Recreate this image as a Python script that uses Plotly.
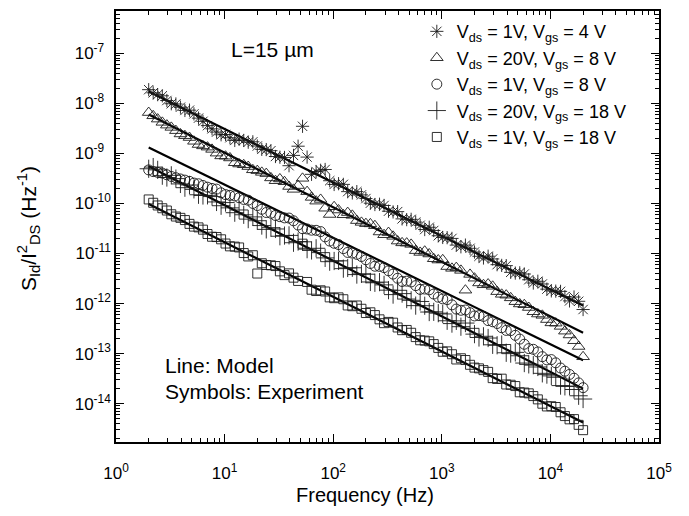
import plotly.graph_objects as go

# Frequencies (Hz) - two interleaved measurement grids
FREQ_A = [2.00, 2.42, 2.94, 3.56, 4.31, 5.22, 6.32, 7.66, 9.28, 11.2, 13.6, 16.5,
          20.0, 24.2, 29.4, 35.6, 43.1, 52.2, 63.2, 76.6, 92.8, 112, 136, 165,
          200, 242, 294, 356, 431, 522, 632, 766, 928, 1120, 1360, 1650,
          2000, 2420, 2940, 3560, 4310, 5220, 6320, 7660, 9280, 11200, 13600, 16500, 20000]
FREQ_B = [2.20, 2.67, 3.23, 3.92, 4.75, 5.75, 6.96, 8.43, 10.2, 12.4, 15.0, 18.2,
          22.0, 26.7, 32.3, 39.2, 47.5, 57.5, 69.6, 84.3, 102, 124, 150, 182,
          220, 267, 323, 392, 475, 575, 696, 843, 1020, 1240, 1500, 1820,
          2200, 2670, 3230, 3920, 4750, 5750, 6960, 8430, 10200, 12400, 15000, 18200]

# Vds = 1V, Vgs = 4 V (asterisk)
STAR_A = [1.87e-8, 1.49e-8, 1.135e-8, 9.68e-9, 7.19e-9, 6.14e-9, 4.36e-9, 3.09e-9,
          2.35e-9, 2.05e-9, 1.92e-9, 1.67e-9, 1.40e-9, 1.19e-9, 8.65e-10, 8.28e-10,
          9.10e-10, 3.47e-9, 3.81e-10, 4.59e-10, 2.84e-10, 2.48e-10, 1.72e-10, 1.72e-10,
          1.25e-10, 9.5e-11, 9.1e-11, 6.76e-11, 4.91e-11, 4.81e-11, 3.66e-11, 3.34e-11,
          2.26e-11, 2.07e-11, 1.47e-11, 1.47e-11, 1.07e-11, 8.13e-12, 7.78e-12, 5.78e-12,
          4.20e-12, 4.11e-12, 2.99e-12, 2.79e-12, 1.94e-12, 1.77e-12, 1.38e-12, 1.35e-12, 7.6e-13]
STAR_B = [1.616e-8, 1.41e-8, 9.78e-9, 8.35e-9, 7.29e-9, 5.05e-9, 3.58e-9, 2.66e-9,
          2.38e-9, 1.81e-9, 1.81e-9, 1.70e-9, 1.20e-9, 1.13e-9, 8.37e-10, 5.67e-10,
          1.39e-9, 8.42e-10, 4.33e-10, 4.76e-10, 2.39e-10, 2.40e-10, 1.62e-10, 1.48e-10,
          1.01e-10, 9.63e-11, 6.99e-11, 6.85e-11, 4.75e-11, 4.24e-11, 3.01e-11, 2.88e-11,
          2.09e-11, 2.00e-11, 1.36e-11, 1.27e-11, 8.80e-12, 8.82e-12, 5.98e-12, 5.72e-12,
          4.06e-12, 3.89e-12, 2.57e-12, 2.46e-12, 1.79e-12, 1.75e-12, 1.13e-12, 1.11e-12]

# Vds = 20V, Vgs = 8 V (triangle)
TRI_A = [6.53e-9, 4.83e-9, 3.66e-9, 2.84e-9, 2.25e-9, 1.74e-9, 1.41e-9, 1.20e-9,
         8.89e-10, 8.09e-10, 6.12e-10, 5.45e-10, 4.52e-10, 3.94e-10, 2.84e-10, 2.71e-10,
         1.91e-10, 3.17e-10, 1.32e-10, 1.20e-10, 6.01e-11, 7.38e-11, 6.56e-11, 4.54e-11,
         3.94e-11, 3.59e-11, 2.37e-11, 2.20e-11, 1.63e-11, 1.52e-11, 1.05e-11, 9.77e-12,
         7.40e-12, 5.48e-12, 5.22e-12, 1.85e-12, 3.21e-12, 2.37e-12, 2.21e-12, 1.53e-12,
         1.30e-12, 9.82e-13, 8.34e-13, 6.18e-13, 4.79e-13, 4.06e-13, 2.81e-13, 1.81e-13, 8.65e-14]
TRI_B = [5.62e-9, 4.16e-9, 3.30e-9, 2.44e-9, 2.07e-9, 1.50e-9, 1.33e-9, 1.01e-9,
         8.77e-10, 6.49e-10, 5.91e-10, 4.69e-10, 4.17e-10, 3.23e-10, 3.08e-10, 2.18e-10,
         2.27e-10, 1.72e-10, 1.11e-10, 8.02e-11, 8.58e-11, 5.93e-11, 5.78e-11, 4.18e-11,
         3.90e-11, 2.69e-11, 2.62e-11, 1.77e-11, 1.61e-11, 1.14e-11, 1.11e-11, 7.85e-12,
         7.48e-12, 5.05e-12, 4.60e-12, 3.82e-12, 2.58e-12, 2.45e-12, 1.73e-12, 1.47e-12,
         1.09e-12, 9.48e-13, 6.85e-13, 5.82e-13, 4.11e-13, 3.50e-13, 2.36e-13, 1.39e-13]

# Vds = 1V, Vgs = 8 V (circle)
CIR_A = [4.67e-10, 4.17e-10, 3.73e-10, 3.26e-10, 2.92e-10, 2.55e-10, 2.28e-10, 1.99e-10,
         1.63e-10, 1.45e-10, 1.30e-10, 1.16e-10, 9.06e-11, 6.58e-11, 5.75e-11, 5.14e-11,
         4.50e-11, 3.12e-11, 2.92e-11, 2.74e-11, 1.77e-11, 1.51e-11, 1.05e-11, 9.62e-12,
         7.50e-12, 5.57e-12, 5.22e-12, 3.88e-12, 2.76e-12, 2.70e-12, 1.92e-12, 1.88e-12,
         1.34e-12, 1.20e-12, 7.76e-13, 7.43e-13, 5.66e-13, 5.55e-13, 4.33e-13, 3.29e-13,
         2.88e-13, 1.95e-13, 1.26e-13, 1.08e-13, 7.50e-14, 6.55e-14, 4.45e-14, 3.23e-14, 2.09e-14]
CIR_B = [4.32e-10, 4.04e-10, 3.45e-10, 3.08e-10, 2.76e-10, 2.47e-10, 2.11e-10, 1.93e-10,
         1.50e-10, 1.41e-10, 1.20e-10, 1.00e-10, 7.63e-11, 6.37e-11, 5.44e-11, 5.10e-11,
         3.70e-11, 3.09e-11, 2.90e-11, 2.15e-11, 1.60e-11, 1.25e-11, 1.02e-11, 8.70e-12,
         6.32e-12, 5.52e-12, 4.51e-12, 3.20e-12, 2.80e-12, 2.28e-12, 1.95e-12, 1.55e-12,
         1.24e-12, 9.42e-13, 7.34e-13, 6.57e-13, 5.74e-13, 4.57e-13, 4.00e-13, 2.91e-13,
         2.32e-13, 1.54e-13, 1.22e-13, 8.69e-14, 7.60e-14, 5.16e-14, 3.84e-14, 2.60e-14]

# Vds = 20V, Vgs = 18 V (plus)
PLUS_A = [4.92e-10, 4.68e-10, 3.29e-10, 3.13e-10, 2.06e-10, 1.91e-10, 1.44e-10, 1.37e-10,
          8.99e-11, 8.15e-11, 7.40e-11, 4.86e-11, 4.51e-11, 3.03e-11, 3.09e-11, 2.28e-11,
          1.64e-11, 1.71e-11, 1.15e-11, 1.04e-11, 6.86e-12, 7.14e-12, 5.14e-12, 3.79e-12,
          3.86e-12, 2.60e-12, 2.36e-12, 1.51e-12, 1.58e-12, 1.16e-12, 1.10e-12, 6.77e-13,
          6.43e-13, 4.53e-13, 4.51e-13, 4.08e-13, 2.45e-13, 2.22e-13, 1.50e-13, 1.52e-13,
          1.00e-13, 9.07e-14, 6.10e-14, 5.41e-14, 3.81e-14, 3.37e-14, 2.22e-14, 1.92e-14, 1.24e-14]
PLUS_B = [5.32e-10, 3.58e-10, 3.64e-10, 2.45e-10, 2.33e-10, 1.49e-10, 1.45e-10, 1.07e-10,
          1.04e-10, 6.53e-11, 5.93e-11, 5.38e-11, 3.61e-11, 3.28e-11, 2.21e-11, 2.30e-11,
          1.73e-11, 1.22e-11, 1.27e-11, 8.17e-12, 7.08e-12, 4.98e-12, 5.19e-12, 3.92e-12,
          2.70e-12, 2.68e-12, 1.85e-12, 1.84e-12, 1.23e-12, 9.10e-13, 9.05e-13, 6.83e-13,
          6.20e-13, 3.98e-13, 3.45e-13, 3.20e-13, 2.10e-13, 2.05e-13, 1.47e-13, 1.04e-13,
          1.06e-13, 6.48e-14, 5.88e-14, 4.04e-14, 3.59e-14, 2.30e-14, 2.24e-14, 1.44e-14]

# Vds = 1V, Vgs = 18 V (square)
SQR_A = [1.20e-10, 9.10e-11, 7.21e-11, 5.47e-11, 4.65e-11, 3.44e-11, 2.99e-11, 2.16e-11,
         1.92e-11, 1.39e-11, 1.32e-11, 8.73e-12, 3.98e-12, 5.89e-12, 5.61e-12, 3.70e-12,
         3.29e-12, 1.57e-11, 1.89e-12, 1.84e-12, 1.33e-12, 1.33e-12, 9.17e-13, 9.16e-13,
         6.47e-13, 5.89e-13, 4.06e-13, 4.15e-13, 2.94e-13, 2.61e-13, 1.85e-13, 1.76e-13,
         1.30e-13, 1.11e-13, 7.64e-14, 7.45e-14, 5.26e-14, 4.68e-14, 3.24e-14, 3.16e-14,
         2.39e-14, 1.69e-14, 1.61e-14, 1.22e-14, 8.81e-15, 8.59e-15, 5.66e-15, 4.92e-15, 2.96e-15]
SQR_B = [1.03e-10, 8.01e-11, 6.07e-11, 5.15e-11, 3.90e-11, 3.32e-11, 2.45e-11, 2.13e-11,
         1.58e-11, 1.37e-11, 1.02e-11, 9.24e-12, 6.38e-12, 5.81e-12, 4.40e-12, 4.01e-12,
         2.83e-12, 2.70e-12, 1.78e-12, 1.74e-12, 1.28e-12, 1.22e-12, 8.85e-13, 7.87e-13,
         6.69e-13, 4.84e-13, 4.30e-13, 3.33e-13, 2.97e-13, 2.14e-13, 1.82e-13, 1.55e-13,
         1.09e-13, 9.73e-14, 8.08e-14, 5.98e-14, 5.08e-14, 4.32e-14, 3.12e-14, 2.42e-14,
         2.25e-14, 1.67e-14, 1.42e-14, 1.00e-14, 8.90e-15, 6.74e-15, 4.87e-15, 3.78e-15]

# Model lines (end points)
MODEL_F = [2, 20000]
MODEL_1 = [1.71e-8, 9.1e-13]
MODEL_2 = [5.96e-9, 2.6e-13]
MODEL_3 = [1.31e-9, 7.4e-14]
MODEL_4 = [5.5e-10, 2.0e-14]
MODEL_5 = [9.7e-11, 4.2e-15]

NAMES = ["V<sub>ds</sub> = 1V, V<sub>gs</sub> = 4 V",
         "V<sub>ds</sub> = 20V, V<sub>gs</sub> = 8 V",
         "V<sub>ds</sub> = 1V, V<sub>gs</sub> = 8 V",
         "V<sub>ds</sub> = 20V, V<sub>gs</sub> = 18 V",
         "V<sub>ds</sub> = 1V, V<sub>gs</sub> = 18 V"]

X_TICKS = [1, 10, 100, 1000, 10000, 100000]
X_TICKTEXT = ["10<sup>0</sup>", "10<sup>1</sup>", "10<sup>2</sup>", "10<sup>3</sup>",
              "10<sup>4</sup>", "10<sup>5</sup>"]
Y_TICKS = [1e-14, 1e-13, 1e-12, 1e-11, 1e-10, 1e-9, 1e-8, 1e-7]
Y_TICKTEXT = ["10<sup>-14</sup>", "10<sup>-13</sup>", "10<sup>-12</sup>", "10<sup>-11</sup>",
              "10<sup>-10</sup>", "10<sup>-9\u2007</sup>", "10<sup>-8\u2007</sup>",
              "10<sup>-7\u2007</sup>"]

FONT = "Liberation Sans, Arial, sans-serif"
INK = "#1a1a1a"

fig = go.Figure()

for m in [MODEL_1, MODEL_2, MODEL_3, MODEL_4, MODEL_5]:
    fig.add_trace(go.Scatter(x=MODEL_F, y=m, mode="lines",
                             line=dict(color="black", width=2.2),
                             showlegend=False, hoverinfo="skip"))

series = [(STAR_A, STAR_B), (TRI_A, TRI_B), (CIR_A, CIR_B), (PLUS_A, PLUS_B), (SQR_A, SQR_B)]
symbols = ["asterisk-open", "triangle-up-open", "circle-open", "cross-thin-open", "square-open"]
sizes = [11, 11, 10, 13, 9]
for i, ((sa, sb), sym, sz) in enumerate(zip(series, symbols, sizes)):
    fig.add_trace(go.Scatter(x=FREQ_A + FREQ_B, y=sa + sb, mode="markers", name=NAMES[i],
                             legendgroup=f"g{i}",
                             marker=dict(symbol=sym, size=sz, color=INK,
                                         line=dict(color=INK, width=0.9))))

minor_x = [d * 10 ** e for e in range(0, 5) for d in range(2, 10)]
minor_y = [d * 10.0 ** e for e in range(-15, -6) for d in range(2, 10)]

common = dict(type="log", tickmode="array", ticks="inside", ticklen=8, tickwidth=1.3,
              tickcolor="black", showline=True, linecolor="black", linewidth=1.6,
              mirror="ticks", showgrid=False, zeroline=False,
              tickfont=dict(family=FONT, size=17, color="black"))
fig.update_xaxes(range=[0, 5], tickvals=X_TICKS, ticktext=X_TICKTEXT,
                 ticklabelstandoff=15,
                 minor=dict(tickmode="array", tickvals=minor_x, ticks="inside",
                            ticklen=4, tickwidth=1.1, tickcolor="black", showgrid=False),
                 **common)
fig.update_yaxes(range=[-14.765, -6.157], tickvals=Y_TICKS, ticktext=Y_TICKTEXT,
                 minor=dict(tickmode="array", tickvals=minor_y, ticks="inside",
                            ticklen=4, tickwidth=1.1, tickcolor="black", showgrid=False),
                 **common)

annos = [
    dict(text="L=15 \u00b5m", x=0.289, y=0.910, xanchor="center", size=21),
    dict(text="Line: Model", x=0.0866, y=0.178, xanchor="left", size=21),
    dict(text="Symbols: Experiment", x=0.0866, y=0.118, xanchor="left", size=21),
    dict(text="Frequency (Hz)", x=0.458, y=-0.1235, xanchor="center", size=20),
]
for a in annos:
    fig.add_annotation(text=a["text"], x=a["x"], y=a["y"], xref="paper", yref="paper",
                       xanchor=a["xanchor"], yanchor="middle", showarrow=False,
                       font=dict(family=FONT, size=a["size"], color="black"))
fig.add_annotation(text="S<sub>Id</sub>/I<sup>2</sup><sub>DS</sub> (Hz<sup>-1</sup>)",
                   x=-0.162, y=0.494, xref="paper", yref="paper", textangle=-90,
                   xanchor="center", yanchor="middle", showarrow=False,
                   font=dict(family=FONT, size=21, color="black"))

fig.update_layout(
    width=681, height=508,
    margin=dict(l=108, r=30, t=1, b=74),
    paper_bgcolor="white", plot_bgcolor="white",
    showlegend=True,
    legend=dict(x=0.554, y=0.995, xanchor="left", yanchor="top",
                bgcolor="rgba(0,0,0,0)", borderwidth=0, tracegroupgap=0,
                font=dict(family=FONT, size=18, color="black")),
)

fig.write_html("out.html")
